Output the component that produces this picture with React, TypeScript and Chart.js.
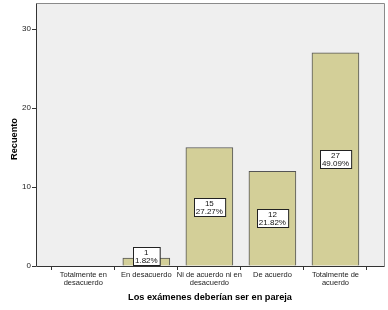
import React, { useEffect, useRef } from "react";
import { Chart, registerables } from "chart.js";

Chart.register(...registerables);

const categories: string[][] = [
  ["Totalmente en", "desacuerdo"],
  ["En desacuerdo"],
  ["Ni de acuerdo ni en", "desacuerdo"],
  ["De acuerdo"],
  ["Totalmente de", "acuerdo"],
];
const counts: number[] = [0, 1, 15, 12, 27];
const percents: string[] = ["0.00%", "1.82%", "27.27%", "21.82%", "49.09%"];
const yTicks: number[] = [0, 10, 20, 30];
const xTitle = "Los exámenes deberían ser en pareja";
const yTitle = "Recuento";

const FONT = "'Liberation Sans', Arial, sans-serif";

export default function App() {
  const ref = useRef<HTMLCanvasElement>(null);
  useEffect(() => {
    document.body.style.margin = "0";
    const canvas = ref.current!;
    const framePlugin = {
      id: "frame",
      beforeDatasetsDraw(chart: any) {
        const { ctx, chartArea: a } = chart;
        ctx.save();
        ctx.fillStyle = "#efefef";
        ctx.fillRect(a.left, a.top, a.right - a.left, a.bottom - a.top);
        ctx.restore();
      },
      afterDatasetsDraw(chart: any) {
        const { ctx, chartArea: a } = chart;
        ctx.save();
        ctx.strokeStyle = "#8a8a8a";
        ctx.lineWidth = 1;
        ctx.beginPath();
        ctx.moveTo(a.left + 0.5, a.top + 0.5);
        ctx.lineTo(a.right + 0.5, a.top + 0.5);
        ctx.lineTo(a.right + 0.5, a.bottom + 0.5);
        ctx.stroke();
        ctx.strokeStyle = "#333333";
        ctx.beginPath();
        ctx.moveTo(a.left + 0.5, a.top + 0.5);
        ctx.lineTo(a.left + 0.5, a.bottom + 0.5);
        ctx.lineTo(a.right + 0.5, a.bottom + 0.5);
        ctx.stroke();
        const meta = chart.getDatasetMeta(0);
        ctx.font = "8px " + FONT;
        ctx.textAlign = "center";
        ctx.textBaseline = "middle";
        meta.data.forEach((bar: any, i: number) => {
          if (counts[i] <= 0) return;
          const l1 = String(counts[i]);
          const l2 = percents[i];
          const w = Math.max(ctx.measureText(l1).width, ctx.measureText(l2).width) + 4;
          const h = 18;
          let cy = (bar.y + bar.base) / 2;
          if (cy + h / 2 > bar.base) cy = bar.base - h / 2 - 1;
          const x0 = Math.round(bar.x - w / 2) + 0.5;
          const y0 = Math.round(cy - h / 2) + 0.5;
          ctx.fillStyle = "#ffffff";
          ctx.fillRect(x0, y0, w, h);
          ctx.strokeStyle = "#222222";
          ctx.strokeRect(x0, y0, w, h);
          ctx.fillStyle = "#111111";
          ctx.fillText(l1, bar.x, y0 + 5);
          ctx.fillText(l2, bar.x, y0 + 13);
        });
        ctx.font = "bold 9.5px 'Liberation Sans', Arial, sans-serif";
        ctx.fillStyle = "#000000";
        ctx.textAlign = "center";
        ctx.textBaseline = "middle";
        const tw = ctx.measureText(xTitle).width;
        ctx.save();
        ctx.translate(210, 297);
        ctx.scale(164 / tw, 1);
        ctx.fillText(xTitle, 0, 0);
        ctx.restore();
        const yw = ctx.measureText(yTitle).width;
        ctx.save();
        ctx.translate(14, 139);
        ctx.rotate(-Math.PI / 2);
        ctx.scale(42 / yw, 1);
        ctx.fillText(yTitle, 0, 0);
        ctx.restore();
        ctx.restore();
      },
    };
    const chart = new Chart(canvas, {
      type: "bar",
      data: {
        datasets: [
          {
            data: counts.map((c, i) => ({ x: i, y: c })),
            backgroundColor: "#d3cf98",
            borderColor: "#555555",
            borderWidth: 1,
            barThickness: 47,
          },
        ],
      },
      options: {
        animation: false,
        responsive: false,
        maintainAspectRatio: false,
        layout: { padding: { top: 3, right: 4, left: 0, bottom: 0 } },
        plugins: { legend: { display: false }, tooltip: { enabled: false } },
        scales: {
          x: {
            type: "linear",
            offset: false,
            min: -0.75,
            max: 4.77,
            border: { display: false },
            grid: {
              display: true,
              drawOnChartArea: false,
              drawTicks: true,
              tickLength: 4,
              color: "#333333",
            },
            afterBuildTicks: (s: any) => {
              s.ticks = categories.map((_, i) => ({ value: i }));
            },
            afterFit: (s: any) => {
              s.height = 44;
              s.paddingLeft = 0;
              s.paddingRight = 0;
            },
            ticks: {
              autoSkip: false,
              maxRotation: 0,
              padding: 1,
              color: "#222222",
              font: { family: FONT, size: 7.5, lineHeight: 1.05 },
              callback: (v: any) => categories[Math.round(Number(v))] ?? "",
            },
          },
          y: {
            min: 0,
            max: 33.3,
            border: { display: false },
            grid: {
              display: true,
              drawOnChartArea: false,
              drawTicks: true,
              tickLength: 4,
              color: "#333333",
            },
            afterBuildTicks: (s: any) => {
              s.ticks = yTicks.map((v) => ({ value: v }));
            },
            afterFit: (s: any) => {
              s.width = 36;
              s.paddingTop = 0;
              s.paddingBottom = 0;
            },
            ticks: {
              padding: 1,
              color: "#222222",
              font: { family: FONT, size: 8 },
            },
          },
        },
      },
      plugins: [framePlugin],
    } as any);
    return () => chart.destroy();
  }, []);
  return (
    <div style={{ width: 388, height: 310, background: "#ffffff" }}>
      <canvas ref={ref} width={388} height={310} style={{ display: "block" }} />
    </div>
  );
}
